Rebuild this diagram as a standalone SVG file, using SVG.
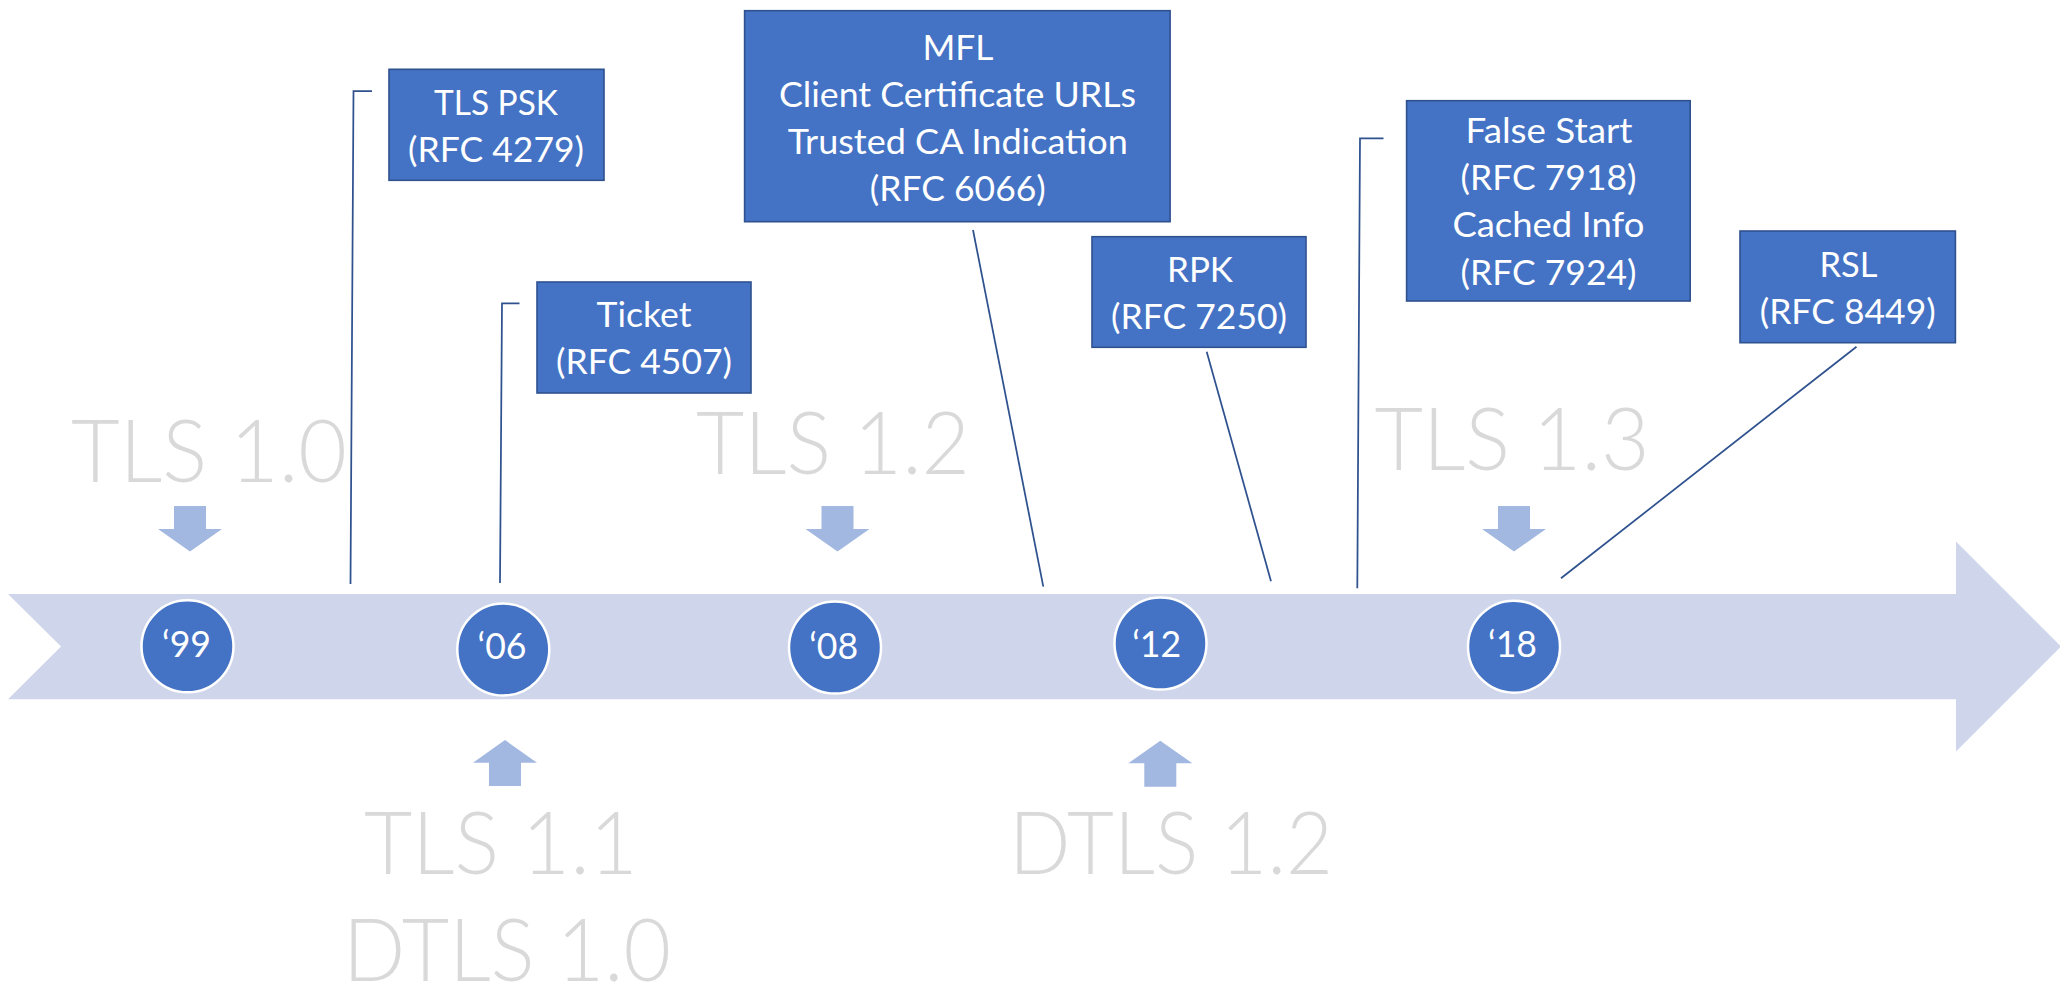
<svg xmlns="http://www.w3.org/2000/svg" width="2060" height="997" viewBox="0 0 2060 997">
<style>
.box{fill:#4472c4;stroke:#2f528f;stroke-width:1.6}
.bt{font-family:Lato,"Liberation Sans",sans-serif;font-size:35px;fill:#ffffff;text-anchor:middle}
.yr{fill:#4472c4;stroke:#ffffff;stroke-width:2.5}
.yt{font-family:Lato,"Liberation Sans",sans-serif;font-size:36px;fill:#ffffff;text-anchor:middle}
.ver{font-family:Lato,"Liberation Sans",sans-serif;font-weight:300;font-size:86px;fill:#d9d9d9;text-anchor:middle}
.sa{fill:#a2b8e0}
.con{fill:none;stroke:#2f528f;stroke-width:1.75}
</style>
<rect width="2060" height="997" fill="#ffffff"/>
<g id="timeline">
<polygon points="8,594 1956,594 1956,541.5 2061,646.5 1956,751.5 1956,699.3 8,699.3 61,646.5" fill="#cfd5ea"/>
</g>
<g id="connectors">
<polyline class="con" points="372,91 353.5,91 350.5,584"/>
<polyline class="con" points="519.5,303.3 502,303.3 500,583"/>
<line class="con" x1="973" y1="230" x2="1043.3" y2="586.7"/>
<line class="con" x1="1206.7" y1="351.7" x2="1271" y2="581.3"/>
<polyline class="con" points="1383.5,138.3 1360,138.3 1357.3,588.3"/>
<line class="con" x1="1856.5" y1="346.7" x2="1561" y2="578.3"/>
</g>
<g id="y99"><circle class="yr" cx="187.5" cy="646.3" r="46"/><text class="yt" x="186.5" y="656.7" textLength="49" lengthAdjust="spacingAndGlyphs">‘99</text></g>
<g id="y06"><circle class="yr" cx="503.3" cy="649.5" r="46"/><text class="yt" x="502" y="659.3" textLength="49" lengthAdjust="spacingAndGlyphs">‘06</text></g>
<g id="y08"><circle class="yr" cx="835" cy="647.5" r="46"/><text class="yt" x="833.7" y="659.3" textLength="49" lengthAdjust="spacingAndGlyphs">‘08</text></g>
<g id="y12"><circle class="yr" cx="1160.5" cy="643.5" r="46"/><text class="yt" x="1156.7" y="656.7" textLength="49" lengthAdjust="spacingAndGlyphs">‘12</text></g>
<g id="y18"><circle class="yr" cx="1514" cy="646.7" r="46"/><text class="yt" x="1512.5" y="656.7" textLength="49" lengthAdjust="spacingAndGlyphs">‘18</text></g>
<g id="tls10">
<text class="ver" x="209" y="481.7" textLength="276" lengthAdjust="spacingAndGlyphs">TLS 1.0</text>
<polygon class="sa" points="174,506 206,506 206,529 222,529 190,551.5 158,529 174,529"/>
</g>
<g id="tls12">
<text class="ver" x="833" y="474.3" textLength="274" lengthAdjust="spacingAndGlyphs">TLS 1.2</text>
<polygon class="sa" points="821.5,506 853.5,506 853.5,529 869.5,529 837.5,551.5 805.5,529 821.5,529"/>
</g>
<g id="tls13">
<text class="ver" x="1512" y="470" textLength="275" lengthAdjust="spacingAndGlyphs">TLS 1.3</text>
<polygon class="sa" points="1498,506 1530,506 1530,529 1546,529 1514,551.5 1482,529 1498,529"/>
</g>
<g id="tls11">
<polygon class="sa" points="489,786 521,786 521,762.7 537,762.7 505,740 473,762.7 489,762.7"/>
<text class="ver" x="501" y="874" textLength="274" lengthAdjust="spacingAndGlyphs">TLS 1.1</text>
<text class="ver" x="507" y="980.7" textLength="328" lengthAdjust="spacingAndGlyphs">DTLS 1.0</text>
</g>
<g id="dtls12">
<polygon class="sa" points="1144.3,786.7 1176.3,786.7 1176.3,763.3 1192.3,763.3 1160.3,740.7 1128.3,763.3 1144.3,763.3"/>
<text class="ver" x="1171" y="874" textLength="324" lengthAdjust="spacingAndGlyphs">DTLS 1.2</text>
</g>
<g id="psk">
<rect class="box" x="389" y="69.3" width="215" height="111"/>
<text class="bt" x="496" y="115" textLength="124" lengthAdjust="spacingAndGlyphs">TLS PSK</text>
<text class="bt" x="496" y="162" textLength="176" lengthAdjust="spacingAndGlyphs">(RFC 4279)</text>
</g>
<g id="ticket">
<rect class="box" x="537" y="282" width="214" height="111"/>
<text class="bt" x="644" y="327" textLength="95" lengthAdjust="spacingAndGlyphs">Ticket</text>
<text class="bt" x="644" y="373.5" textLength="176" lengthAdjust="spacingAndGlyphs">(RFC 4507)</text>
</g>
<g id="mfl">
<rect class="box" x="744.6" y="10.7" width="425.5" height="211"/>
<text class="bt" x="958" y="59.5" textLength="71" lengthAdjust="spacingAndGlyphs">MFL</text>
<text class="bt" x="957.4" y="106.5" textLength="357" lengthAdjust="spacingAndGlyphs">Client Certificate URLs</text>
<text class="bt" x="957.8" y="153.5" textLength="340" lengthAdjust="spacingAndGlyphs">Trusted CA Indication</text>
<text class="bt" x="957.8" y="200.5" textLength="176" lengthAdjust="spacingAndGlyphs">(RFC 6066)</text>
</g>
<g id="rpk">
<rect class="box" x="1092" y="236.7" width="214" height="110.6"/>
<text class="bt" x="1200" y="281.5" textLength="66" lengthAdjust="spacingAndGlyphs">RPK</text>
<text class="bt" x="1199" y="328.5" textLength="176" lengthAdjust="spacingAndGlyphs">(RFC 7250)</text>
</g>
<g id="falsestart">
<rect class="box" x="1406.6" y="100.7" width="283.6" height="200.3"/>
<text class="bt" x="1549" y="142.5" textLength="167" lengthAdjust="spacingAndGlyphs">False Start</text>
<text class="bt" x="1548.5" y="190" textLength="176" lengthAdjust="spacingAndGlyphs">(RFC 7918)</text>
<text class="bt" x="1548.4" y="237" textLength="192" lengthAdjust="spacingAndGlyphs">Cached Info</text>
<text class="bt" x="1548.5" y="284.5" textLength="176" lengthAdjust="spacingAndGlyphs">(RFC 7924)</text>
</g>
<g id="rsl">
<rect class="box" x="1740" y="231" width="215.4" height="111.7"/>
<text class="bt" x="1848.5" y="277" textLength="58" lengthAdjust="spacingAndGlyphs">RSL</text>
<text class="bt" x="1847.7" y="324" textLength="176" lengthAdjust="spacingAndGlyphs">(RFC 8449)</text>
</g>
</svg>
